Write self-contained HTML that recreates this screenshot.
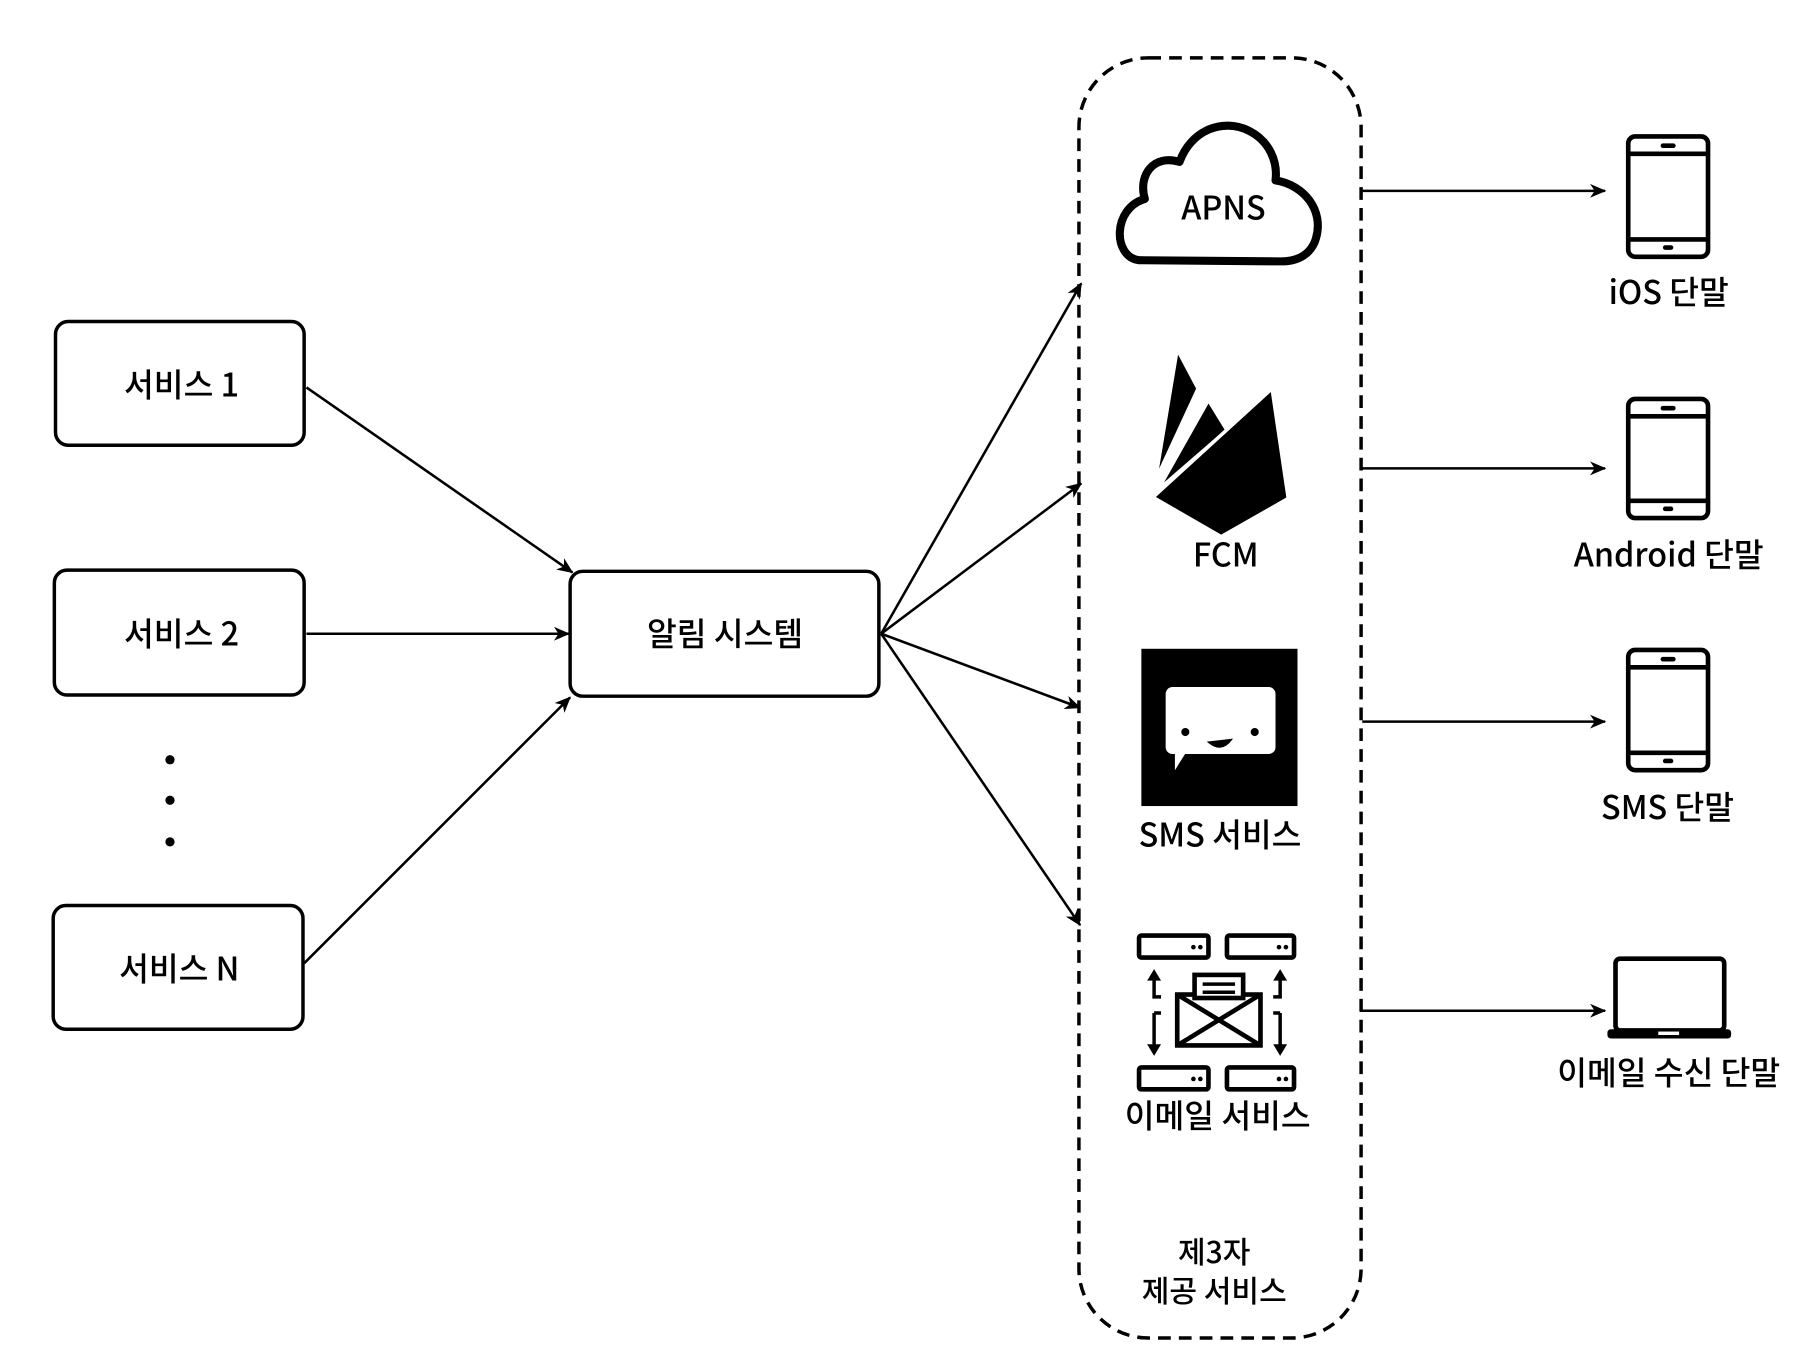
<!DOCTYPE html>
<html><head><meta charset="utf-8"><style>
html,body{margin:0;padding:0;background:#fff;}
svg{display:block;}
text{font-family:"Noto Sans CJK KR","Liberation Sans",sans-serif;font-weight:500;fill:#000;text-anchor:middle;}
</style></head><body>
<svg width="1804" height="1360" viewBox="0 0 1560 1176" xmlns="http://www.w3.org/2000/svg">
<defs>
<marker id="a" markerWidth="14" markerHeight="12" refX="13" refY="6" orient="auto" markerUnits="userSpaceOnUse">
<path d="M0,0 L14,6 L0,12 L4,6 Z" fill="#000"/>
</marker>
</defs>
<g fill="none" stroke="#000" stroke-width="3">
<rect x="48" y="278" width="215" height="107" rx="11"/>
<rect x="47" y="493" width="216" height="108" rx="11"/>
<rect x="46" y="783" width="216" height="107" rx="11"/>
<rect x="493" y="494" width="267" height="108" rx="11"/>
</g>
<circle cx="147" cy="657" r="4"/><circle cx="147" cy="692" r="4"/><circle cx="147" cy="728" r="4"/>
<text x="157" y="343" font-size="28">서비스 1</text>
<text x="157" y="558" font-size="28">서비스 2</text>
<text x="155" y="848" font-size="28">서비스 N</text>
<text x="627" y="558" font-size="28">알림 시스템</text>
<g stroke="#000" stroke-width="2.2" fill="none" marker-end="url(#a)">
<line x1="265" y1="335" x2="495" y2="495"/>
<line x1="265" y1="548" x2="492" y2="548"/>
<line x1="263" y1="833" x2="493" y2="603"/>
<line x1="762" y1="548" x2="935" y2="245"/>
<line x1="762" y1="548" x2="935" y2="418"/>
<line x1="762" y1="548" x2="934" y2="612"/>
<line x1="762" y1="548" x2="934" y2="800"/>
<line x1="1178" y1="165" x2="1388" y2="165"/>
<line x1="1178" y1="405" x2="1388" y2="405"/>
<line x1="1178" y1="624" x2="1388" y2="624"/>
<line x1="1176" y1="874" x2="1388" y2="874"/>
</g>
<rect x="933" y="50" width="244" height="1107" rx="60" fill="none" stroke="#000" stroke-width="3" stroke-dasharray="11,7"/>
<!-- cloud -->
<path d="M985,225 C962,222 962,180 990,172 C984,152 997,133 1020,140 C1030,112 1058,102 1080,113 C1098,122 1105,140 1103,156 C1128,160 1145,182 1138,206 C1134,220 1122,226 1108,226 Z" fill="none" stroke="#000" stroke-width="7" stroke-linejoin="round"/>
<text x="1058" y="190" font-size="28">APNS</text>
<!-- firebase -->
<g stroke="#fff" stroke-width="3" stroke-linejoin="round">
<path d="M999,416 L1018,302 L1036,336 Z" fill="#000"/>
<path d="M1001,424 L1045,346 L1061,372 Z" fill="#000"/>
<path d="M997,430 L1100,336 L1114,431 L1056,464 Z" fill="#000"/>
</g>
<text x="1060" y="490" font-size="28">FCM</text>
<!-- SMS -->
<rect x="987" y="561" width="135" height="136" fill="#000"/>
<rect x="1008" y="594" width="95" height="58" rx="6" fill="#fff"/>
<path d="M1016,650 L1016,666 L1026,650 Z" fill="#fff"/>
<circle cx="1025" cy="633" r="3.5" fill="#000"/><circle cx="1085" cy="633" r="3.5" fill="#000"/>
<path d="M1046,642 Q1056,650 1064,640 Z" fill="#000" stroke="#000" stroke-width="2"/>
<text x="1055" y="732" font-size="28">SMS 서비스</text>
<!-- email -->
<g fill="none" stroke="#000" stroke-width="4">
<rect x="985" y="809" width="60" height="19" rx="2"/><rect x="1061" y="809" width="58" height="19" rx="2"/>
<rect x="985" y="923" width="60" height="19" rx="2"/><rect x="1061" y="923" width="58" height="19" rx="2"/>
<rect x="1018" y="860" width="72" height="44"/>
<path d="M1018,860 L1090,904 M1090,860 L1018,904"/>
<rect x="1033" y="843" width="42" height="20" fill="#fff"/>
<path d="M1040,851 H1068 M1040,858 H1068" stroke-width="3"/>
<path d="M998,845 V862 H1004 M998,876 H1004 M998,876 V905 M1107,845 V862 H1101 M1107,876 H1101 M1107,876 V905" stroke-width="3"/>
</g>
<path d="M992,848 L998,838 L1004,848 Z M1101,848 L1107,838 L1113,848 Z M992,903 L998,913 L1004,903 Z M1101,903 L1107,913 L1113,903 Z" fill="#000"/>
<g fill="#000"><circle cx="1032" cy="819" r="2"/><circle cx="1038" cy="819" r="2"/><circle cx="1106" cy="819" r="2"/><circle cx="1112" cy="819" r="2"/><circle cx="1032" cy="933" r="2"/><circle cx="1038" cy="933" r="2"/><circle cx="1106" cy="933" r="2"/><circle cx="1112" cy="933" r="2"/></g>
<text x="1053" y="975" font-size="28">이메일 서비스</text>
<text x="1050" y="1092" font-size="26">제3자</text>
<text x="1050" y="1126" font-size="26">제공 서비스</text>
<!-- phones -->
<g fill="none" stroke="#000" stroke-width="4">
<rect x="1408" y="118" width="69" height="104" rx="6"/><path d="M1408,133 H1477 M1408,207 H1477"/>
<rect x="1408" y="345" width="69" height="103" rx="6"/><path d="M1408,360 H1477 M1408,433 H1477"/>
<rect x="1408" y="562" width="69" height="104" rx="6"/><path d="M1408,577 H1477 M1408,651 H1477"/>
<rect x="1397" y="829" width="94" height="62" rx="4"/>
</g>
<g fill="#000">
<rect x="1436" y="124" width="13" height="4" rx="2"/><rect x="1438" y="212" width="9" height="4" rx="2"/>
<rect x="1436" y="351" width="13" height="4" rx="2"/><rect x="1438" y="438" width="9" height="4" rx="2"/>
<rect x="1436" y="568" width="13" height="4" rx="2"/><rect x="1438" y="656" width="9" height="4" rx="2"/>
<rect x="1390" y="890" width="107" height="8" rx="3"/>
</g>
<rect x="1434" y="892" width="18" height="3" fill="#fff"/>
<text x="1443" y="263" font-size="28">iOS 단말</text>
<text x="1443" y="490" font-size="28">Android 단말</text>
<text x="1442" y="708" font-size="28">SMS 단말</text>
<text x="1443" y="938" font-size="28">이메일 수신 단말</text>
</svg>
</body></html>
